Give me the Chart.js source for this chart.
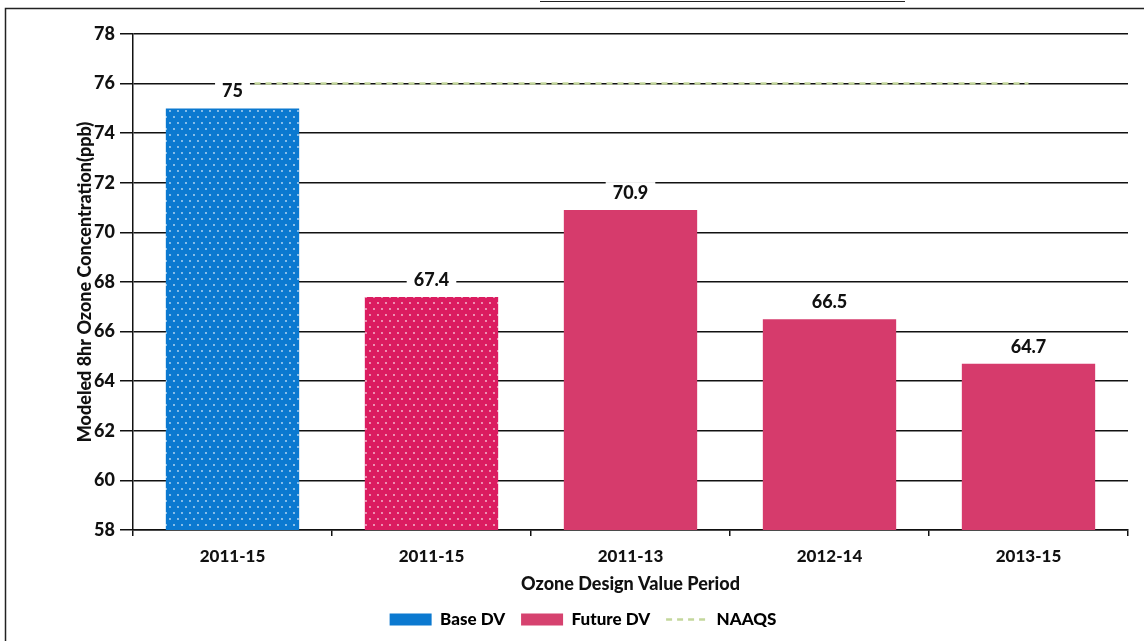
<!DOCTYPE html>
<html>
<head>
<meta charset="utf-8">
<style>
  html, body { margin: 0; padding: 0; background: #ffffff; }
  #wrap { width: 1144px; height: 641px; position: relative; }
</style>
<script src="https://cdn.jsdelivr.net/npm/chart.js@4.4.1/dist/chart.umd.min.js"></script>
</head>
<body>
<div id="wrap"><canvas id="c" width="1144" height="641"></canvas></div>
<script>
// Design value periods along the x axis
const periods = ['2011-15', '2011-15', '2011-13', '2012-14', '2013-15'];
// Modeled 8-hr ozone design values (ppb)
const baseDV = [75, null, null, null, null];
const futureDV = [null, 67.4, 70.9, 66.5, 64.7];
// Ozone standard (ppb)
const naaqs = [76, 76, 76, 76, 76];
// Y axis range and step
const yMin = 58, yMax = 78, yStep = 2;

const BLUE = '#0b79d0';
const PINK = '#d63b6c';
const PINK_DOT = '#db1c60';
const GREEN = '#c4d79c';
const FONT = 'Lato, "Open Sans", sans-serif';
const WEIGHT = '900';
const INK = '#111111';

// Dotted fill used for the base year bars
function dotPattern(base) {
  const t = document.createElement('canvas');
  t.width = 8; t.height = 12;
  const g = t.getContext('2d');
  g.fillStyle = base;
  g.fillRect(0, 0, 8, 12);
  g.fillStyle = 'rgba(255,255,255,0.75)';
  g.beginPath(); g.arc(2, 3, 0.9, 0, Math.PI * 2); g.fill();
  g.beginPath(); g.arc(6, 9, 0.9, 0, Math.PI * 2); g.fill();
  const ctx = document.getElementById('c').getContext('2d');
  return ctx.createPattern(t, 'repeat');
}

const bluePattern = dotPattern(BLUE);
const pinkPattern = dotPattern(PINK_DOT);

// Value labels over the bars, on a white box that breaks the grid lines
const valueLabels = {
  id: 'valueLabels',
  afterDatasetsDraw(chart) {
    const ctx = chart.ctx;
    ctx.save();
    ctx.font = WEIGHT + ' 18px ' + FONT;
    ctx.textAlign = 'center';
    ctx.textBaseline = 'middle';
    chart.data.datasets.forEach((ds, di) => {
      if (ds.type === 'line') return;
      const meta = chart.getDatasetMeta(di);
      ds.data.forEach((v, i) => {
        if (v === null) return;
        const el = meta.data[i];
        const txt = String(v);
        const w = ctx.measureText(txt).width;
        const cy = el.y - 18;
        ctx.fillStyle = '#ffffff';
        ctx.fillRect(el.x - w / 2 - 7, cy - 10, w + 14, 20);
        ctx.fillStyle = INK;
        ctx.fillText(txt, el.x, cy + 1);
      });
    });
    ctx.restore();
  }
};

// Outer frame lines
const frame = {
  id: 'frame',
  afterDraw(chart) {
    const ctx = chart.ctx;
    ctx.save();
    ctx.strokeStyle = '#222222';
    ctx.lineWidth = 1.5;
    ctx.beginPath();
    ctx.moveTo(5.5, 641);
    ctx.lineTo(5.5, 8.5);
    ctx.lineTo(1144, 8.5);
    ctx.stroke();
    ctx.lineWidth = 1;
    ctx.beginPath();
    ctx.moveTo(540, 1.5);
    ctx.lineTo(905, 1.5);
    ctx.stroke();
    ctx.restore();
  }
};

new Chart(document.getElementById('c'), {
  data: {
    labels: periods,
    datasets: [
      {
        type: 'bar',
        label: 'Base DV',
        data: baseDV,
        backgroundColor: bluePattern,
        grouped: false,
        barPercentage: 0.67,
        categoryPercentage: 1,
        order: 2
      },
      {
        type: 'bar',
        label: 'Future DV',
        data: futureDV,
        backgroundColor: [PINK, pinkPattern, PINK, PINK, PINK],
        grouped: false,
        barPercentage: 0.67,
        categoryPercentage: 1,
        order: 2
      },
      {
        type: 'line',
        label: 'NAAQS',
        data: naaqs,
        borderColor: GREEN,
        borderWidth: 2.5,
        borderDash: [6, 5],
        pointRadius: 0,
        fill: false,
        order: 1
      }
    ]
  },
  options: {
    responsive: false,
    animation: false,
    layout: { padding: { left: 38, right: 16, top: 34, bottom: 3 } },
    plugins: {
      tooltip: { enabled: false },
      legend: {
        position: 'bottom',
        labels: {
          usePointStyle: true,
          pointStyleWidth: 42,
          boxHeight: 12,
          padding: 16,
          color: INK,
          font: { family: FONT, size: 17, weight: WEIGHT },
          generateLabels() {
            return [
              { text: 'Base DV', fillStyle: BLUE, strokeStyle: BLUE, lineWidth: 0, pointStyle: 'rect', datasetIndex: 0 },
              { text: 'Future DV', fillStyle: '#d6426f', strokeStyle: '#d6426f', lineWidth: 0, pointStyle: 'rect', datasetIndex: 1 },
              { text: 'NAAQS', fillStyle: 'rgba(0,0,0,0)', strokeStyle: GREEN, lineWidth: 2.5, lineDash: [6, 5], pointStyle: 'line', datasetIndex: 2 }
            ];
          }
        }
      }
    },
    scales: {
      x: {
        offset: true,
        grid: { display: true, offset: true, drawOnChartArea: false, drawTicks: true, tickLength: 6, color: INK, lineWidth: 1.5 },
        border: { display: true, color: INK, width: 1.5 },
        ticks: { color: INK, padding: 10, font: { family: FONT, size: 17, weight: WEIGHT } },
        title: {
          display: true,
          text: 'Ozone Design Value Period',
          color: INK,
          font: { family: FONT, size: 18, weight: WEIGHT },
          padding: { top: 0, bottom: 0 }
        },
        afterFit(scale) { scale.height = 65; }
      },
      y: {
        min: yMin,
        max: yMax,
        grid: { color: INK, lineWidth: 1.5, drawTicks: true, tickLength: 13 },
        border: { display: true, color: INK, width: 1.5 },
        ticks: { stepSize: yStep, color: INK, padding: 5, font: { family: FONT, size: 18, weight: WEIGHT } },
        title: {
          display: true,
          text: 'Modeled 8hr Ozone Concentration(ppb)',
          color: INK,
          font: { family: FONT, size: 18, weight: WEIGHT },
          padding: { top: 36, bottom: 0 }
        },
        afterFit(scale) { scale.width = 95; }
      }
    }
  },
  plugins: [valueLabels, frame]
});
</script>
</body>
</html>
